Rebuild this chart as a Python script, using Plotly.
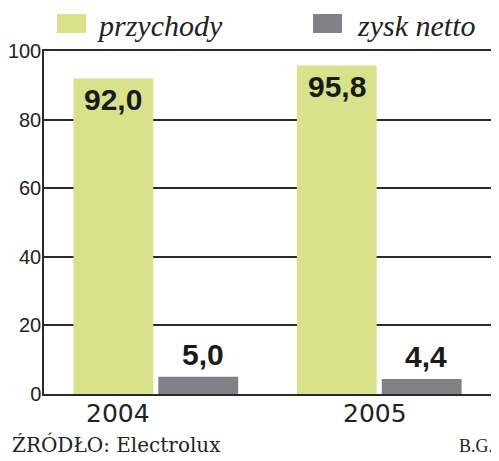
import plotly.graph_objects as go

years = ["2004", "2005"]
przychody = [92.0, 95.8]
zysk_netto = [5.0, 4.4]
y_ticks = [0, 20, 40, 60, 80, 100]

GREEN = "#d7e28a"
GRAY = "#808185"
LINE = "#2a2a2a"

# page offset of the figure inside the browser window
OX, OY = 9, 9
WIN_W, WIN_H = 499, 461
W, H = WIN_W - OX, WIN_H - OY
# plot area in window pixels
PX0, PX1, PY0, PY1 = 45, 492, 52, 395
L, R, T, B = PX0 - OX, WIN_W - PX1, PY0 - OY, WIN_H - PY1
PW, PH = PX1 - PX0, PY1 - PY0

def px_x(p):
    return (p - PX0) / PW

def px_y(p):
    return (PY1 - p) / PH

def fmt(v):
    return f"{v:.1f}".replace(".", ",")

fig = go.Figure()
fig.add_trace(go.Bar(x=years, y=przychody, name="przychody", marker_color=GREEN,
                     marker_line_width=0, showlegend=False))
fig.add_trace(go.Bar(x=years, y=zysk_netto, name="zysk netto", marker_color=GRAY,
                     marker_line_width=0, showlegend=False))

off = 0.19
val_font = dict(family="Liberation Sans", size=30, color="#1a1a1a", weight="bold")
ann = []
for i, v in enumerate(przychody):
    ann.append(dict(x=i - off, y=v, xref="x", yref="y", text=fmt(v), showarrow=False,
                    yanchor="top", yshift=-3, font=val_font))
for i, v in enumerate(zysk_netto):
    ann.append(dict(x=i + off + 0.02, y=v, xref="x", yref="y", text=fmt(v), showarrow=False,
                    yanchor="bottom", yshift=4, font=val_font))
# year labels
year_x = [-0.17, 0.98]
for yx, yr in zip(year_x, years):
    ann.append(dict(x=yx, y=0, xref="x", yref="y", text=yr, showarrow=False,
                    yanchor="top", yshift=-3,
                    font=dict(family="DejaVu Sans", size=25, color="#222")))

ann += [
    dict(x=px_x(96), y=px_y(26), xref="paper", yref="paper", text="<i>przychody</i>",
         showarrow=False, xanchor="left", yanchor="middle",
         font=dict(family="Liberation Serif", size=30, color="#222")),
    dict(x=px_x(356), y=px_y(26), xref="paper", yref="paper", text="<i>zysk netto</i>",
         showarrow=False, xanchor="left", yanchor="middle",
         font=dict(family="Liberation Serif", size=30, color="#222")),
    dict(x=px_x(11), y=px_y(446), xref="paper", yref="paper", text="ŹRÓDŁO: Electrolux",
         showarrow=False, xanchor="left", yanchor="middle",
         font=dict(family="DejaVu Serif", size=20, color="#222")),
    dict(x=px_x(496), y=px_y(447), xref="paper", yref="paper", text="B.G.",
         showarrow=False, xanchor="right", yanchor="middle",
         font=dict(family="Liberation Serif", size=18, color="#222")),
]

shapes = [
    dict(type="rect", xref="paper", yref="paper", x0=px_x(58), x1=px_x(87),
         y0=px_y(34), y1=px_y(15), fillcolor=GREEN, line_width=0),
    dict(type="rect", xref="paper", yref="paper", x0=px_x(314), x1=px_x(343),
         y0=px_y(34), y1=px_y(15), fillcolor=GRAY, line_width=0),
]

fig.update_layout(
    width=W, height=H,
    margin=dict(l=L, r=R, t=T, b=B, pad=0),
    paper_bgcolor="white", plot_bgcolor="white",
    barmode="group", bargap=0.24, bargroupgap=0.06,
    shapes=shapes, annotations=ann,
    xaxis=dict(showticklabels=False, showgrid=False, ticks="", showline=True, automargin=False,
               linecolor=LINE, linewidth=1.5, mirror=True, range=[-0.5, 1.5]),
    yaxis=dict(range=[0, 100], tickvals=y_ticks, showgrid=True, gridcolor=LINE, gridwidth=1.5,
               showline=True, linecolor=LINE, linewidth=1.5, mirror=True, ticks="",
               zeroline=False, layer="below traces", automargin=False, ticklabelstandoff=-3,
               tickfont=dict(family="Liberation Sans", size=20, color="#222")),
)
fig.write_html("out.html")
